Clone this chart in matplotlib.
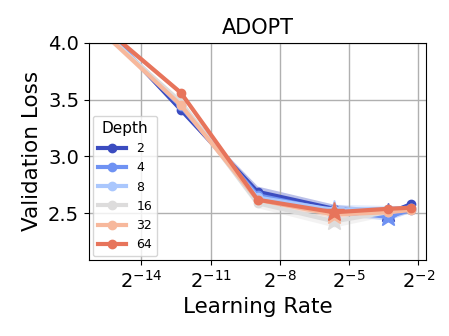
import matplotlib
matplotlib.use("Agg")
import matplotlib.pyplot as plt
import numpy as np

# learning rates swept
lrs = [2e-5, 2e-4, 2e-3, 2e-2, 1e-1, 2e-1]
depths = [2, 4, 8, 16, 32, 64]

# mean validation loss per depth
loss_d2 = [4.13, 3.41, 2.69, 2.54, 2.50, 2.58]
loss_d4 = [4.11, 3.44, 2.66, 2.52, 2.47, 2.53]
loss_d8 = [4.10, 3.46, 2.64, 2.53, 2.54, 2.55]
loss_d16 = [4.08, 3.48, 2.59, 2.43, 2.51, 2.54]
loss_d32 = [4.08, 3.45, 2.62, 2.49, 2.51, 2.53]
loss_d64 = [4.13, 3.56, 2.62, 2.51, 2.54, 2.55]

# spread across seeds
std_d2 = [0.03, 0.02, 0.05, 0.04, 0.03, 0.02]
std_d4 = [0.03, 0.02, 0.04, 0.03, 0.03, 0.02]
std_d8 = [0.03, 0.02, 0.03, 0.05, 0.03, 0.02]
std_d16 = [0.03, 0.02, 0.04, 0.05, 0.03, 0.02]
std_d32 = [0.03, 0.02, 0.03, 0.03, 0.02, 0.02]
std_d64 = [0.03, 0.02, 0.02, 0.02, 0.02, 0.02]

losses = [loss_d2, loss_d4, loss_d8, loss_d16, loss_d32, loss_d64]
stds = [std_d2, std_d4, std_d8, std_d16, std_d32, std_d64]
colors = [plt.cm.coolwarm(i / 6) for i in range(len(depths))]

fig = plt.figure(figsize=(4.49, 3.36), dpi=100)
ax = fig.add_axes([0.198, 0.226, 0.751, 0.647])

x = np.array(lrs)
for depth, loss, std, c in zip(depths, losses, stds, colors):
    y = np.array(loss)
    s = np.array(std)
    ax.fill_between(x, y - s, y + s, color=c, alpha=0.35, lw=0)
    ax.plot(x, y, "-o", color=c, lw=3, ms=6, label=str(depth))
    best = np.argmin(y)
    ax.plot(x[best], y[best], "*", color=c, ms=15)

ax.set_xscale("log", base=2)
ax.set_xticks([2**-14, 2**-11, 2**-8, 2**-5, 2**-2])
ax.set_ylim(2.09, 4.0)
ax.set_yticks([2.5, 3.0, 3.5, 4.0])
ax.grid(True, color="#b0b0b0", lw=1)
ax.tick_params(labelsize=14)
ax.set_xlabel("Learning Rate", fontsize=15.5)
ax.set_ylabel("Validation Loss", fontsize=15.5)
ax.set_title("ADOPT", fontsize=15)
ax.legend(title="Depth", loc="lower left", fontsize=9, title_fontsize=11,
          borderaxespad=0.3, handlelength=2.3)

fig.savefig("out.png", dpi=100)
